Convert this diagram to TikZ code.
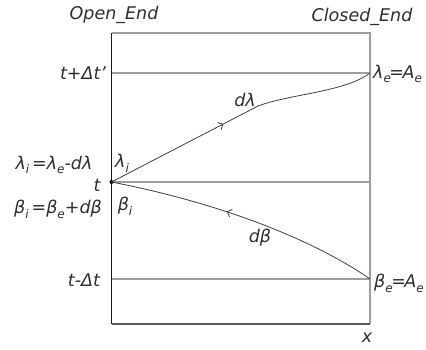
\documentclass[tikz,border=0pt]{standalone}
\usepackage{fontspec}
\setmainfont{DejaVu Sans}
\usetikzlibrary{decorations.markings,arrows.meta}
\newcommand{\sbx}[1]{\raisebox{-0.5ex}{\fontsize{12}{12}\selectfont #1}}
\begin{document}
\begin{tikzpicture}[x=1pt,y=-1pt,
  gridline/.style={draw=black!38, line width=1.3pt},
  boxleft/.style={draw=black!90, line width=1.3pt},
  curve/.style={draw=black!75, line width=0.8pt},
  lbl/.style={font=\fontsize{17.5}{19}\selectfont\itshape, inner sep=0pt, text=black!82},
]
\useasboundingbox[fill=white] (0,0) rectangle (426,349);

% box corners and row ends
\coordinate (TL) at (111.5,33);
\coordinate (TR) at (370,33);
\coordinate (BL) at (111.5,324);
\coordinate (BR) at (370,324);
\coordinate (L1) at (111.5,73);
\coordinate (R1) at (370,73);
\coordinate (L2) at (111.5,182);
\coordinate (R2) at (370,182);
\coordinate (L3) at (111.5,279);
\coordinate (R3) at (370,279);
\coordinate (K) at (258,106);

% grid lines
\draw[gridline] (TL) -- (TR) -- (BR);
\draw[gridline] (L1) -- (R1);
\draw[gridline] (L2) -- (R2);
\draw[gridline] (L3) -- (R3);
\draw[boxleft, draw=black!65] (BL) -- (BR);
\draw[boxleft] (TL) -- (BL);

% point t
\node[circle, fill=black, inner sep=0pt, minimum size=4pt] (P) at (L2) {};

% characteristic curves
\draw[curve, postaction={decorate}, decoration={markings,
   mark=at position 126pt with {\arrow{Straight Barb[length=4pt,width=8pt,line width=0.8pt]}}}]
  (P.center) -- (K) .. controls (290,94) and (345,92) .. (R1);
\draw[curve, postaction={decorate}, decoration={markings,
   mark=at position 119pt with {\arrowreversed{Straight Barb[length=4pt,width=8pt,line width=0.8pt]}}}]
  (P.center) .. controls (230,205) and (320,244) .. (R3);

% labels
\node[lbl] (open) at (114,15) {Open\_End};
\node[lbl] (closed) at (362,17) {Closed\_End};
\node[lbl] (tp) at (83,73) {t+Δt'};
\node[lbl] (tm) at (84,280) {t-Δt};
\node[lbl, anchor=west] (le) at (373,74) {λ\sbx{e}\kern-1.5pt=\kern-1.5pt A\sbx{e}};
\node[lbl, anchor=west] (be) at (374,283) {β\sbx{e}\kern-1.5pt=\kern-1.5pt A\sbx{e}};
\node[lbl] (xl) at (367,338) {x};
\node[lbl] (lam) at (54,165) {λ\sbx{i}\,=λ\sbx{e}-dλ};
\node[lbl] (bet) at (58,209) {β\sbx{i}\,=β\sbx{e}+dβ};
\node[lbl] (tt) at (97,185) {t};
\node[lbl] (li) at (122,163) {λ\sbx{i}};
\node[lbl] (bi) at (125,206) {β\sbx{i}};
\node[lbl] (dl) at (245,100) {dλ};
\node[lbl] (db) at (260,238) {dβ};
\end{tikzpicture}
\end{document}
